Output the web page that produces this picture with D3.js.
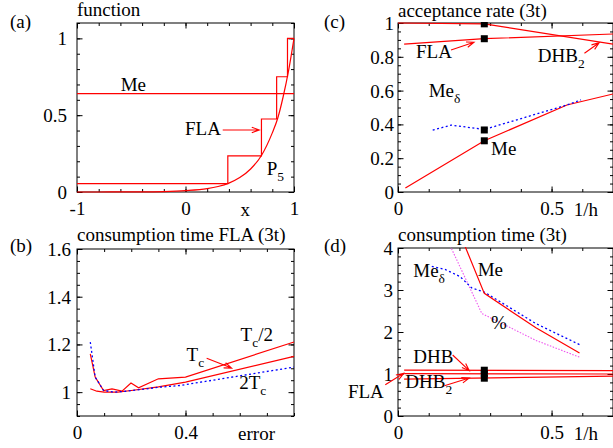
<!DOCTYPE html>
<html><head><meta charset="utf-8">
<script src="https://cdn.jsdelivr.net/npm/d3@7"></script>
<style>body{margin:0;background:#fff;overflow:hidden}</style>
</head><body><svg id="c" width="613" height="448" xmlns="http://www.w3.org/2000/svg"></svg>
<script>
// ---------- panel (a): function ----------
const aCurveX = [-1, -0.8, -0.6, -0.4, -0.2, 0, 0.2, 0.3, 0.4, 0.5, 0.6, 0.7, 0.8, 0.85, 0.9, 0.95, 1];
const aCurveY = [0, 0, 0.001, 0.001, 0.003, 0.009, 0.022, 0.036, 0.058, 0.094, 0.15, 0.238, 0.385, 0.48, 0.62, 0.79, 1.0];
const aStepX = [-1, 0.39, 0.70, 0.84, 0.94, 1];
const aStepY = [0.055, 0.235, 0.475, 0.75, 1.0, 1.0];
const aMeX = [-1, 1];
const aMeY = [0.64, 0.64];
const aXTicks = [-1, 0, 1], aXLabels = ["-1", "0", "1"];
const aYTicks = [0, 0.5, 1], aYLabels = ["0", "0.5", "1"];

// ---------- panel (b): consumption time FLA ----------
const bHalfX = [0.049, 0.067, 0.098, 0.129, 0.166, 0.199, 0.227, 0.3, 0.4, 0.8];
const bHalfY = [1.16, 1.063, 1.007, 1.014, 1.004, 1.038, 1.018, 1.056, 1.063, 1.21];
const bTcX = [0.049, 0.073, 0.1, 0.15, 0.2, 0.3, 0.4, 0.8];
const bTcY = [1.014, 1.004, 1.0, 1.0, 1.007, 1.022, 1.042, 1.15];
const b2TcX = [0.049, 0.067, 0.098, 0.135, 0.184, 0.307, 0.381, 0.8];
const b2TcY = [1.21, 1.063, 1.007, 1.0, 1.004, 1.021, 1.028, 1.105];
const bXTicks = [0, 0.4], bXLabels = ["0", "0.4"];
const bYTicks = [1, 1.2, 1.4, 1.6], bYLabels = ["1", "1.2", "1.4", "1.6"];

// ---------- panel (c): acceptance rate ----------
const cDHBX = [0, 0.281, 0.7], cDHBY = [1.0, 0.995, 0.875];
const cFLAX = [0.02, 0.281, 0.7], cFLAY = [0.875, 0.907, 0.935];
const cMeX = [0.024, 0.281, 0.55, 0.7], cMeY = [0.024, 0.303, 0.515, 0.58];
const cMeDX = [0.113, 0.173, 0.281, 0.55, 0.596], cMeDY = [0.366, 0.396, 0.37, 0.515, 0.545];
const cMarkX = [0.281, 0.281, 0.281, 0.281], cMarkY = [0.995, 0.907, 0.367, 0.303];
const cXTicks = [0, 0.5], cXLabels = ["0", "0.5"];
const cYTicks = [0, 0.2, 0.4, 0.6, 0.8, 1], cYLabels = ["0", "0.2", "0.4", "0.6", "0.8", "1"];

// ---------- panel (d): consumption time ----------
const dMeX = [0.215, 0.281, 0.449, 0.591], dMeY = [4.1, 2.92, 2.1, 1.5];
const dMeDX = [0.11, 0.153, 0.202, 0.24, 0.281, 0.449, 0.591], dMeDY = [3.56, 3.49, 3.32, 3.05, 2.95, 2.2, 1.7];
const dPctX = [0.17, 0.273, 0.449, 0.591], dPctY = [4.05, 2.44, 1.8, 1.4];
const dDHBX = [0.02, 0.7], dDHBY = [1.09, 1.08];
const dFLAX = [0.02, 0.7], dFLAY = [1.01, 1.0];
const dDHB2X = [0.02, 0.7], dDHB2Y = [0.88, 0.95];
const dMarkX = [0.281, 0.281, 0.281], dMarkY = [1.09, 1.01, 0.9];
const dXTicks = [0, 0.5], dXLabels = ["0", "0.5"];
const dYTicks = [0, 1, 2, 3, 4], dYLabels = ["0", "1", "2", "3", "4"];

const FONT = "'Liberation Serif','Times New Roman',serif";
const FS = 19, SFS = 13.5;
const RED = "#ff0000", BLUE = "#0000ff", MAG = "#ee55ee";
const svg = d3.select("#c");

function pts(xs, ys) { return xs.map((x, i) => [x, ys[i]]); }

function panel(o) {
  const x = d3.scaleLinear().domain(o.xd).range([o.l, o.r]);
  const y = d3.scaleLinear().domain(o.yd).range([o.b, o.t]);
  const g = svg.append("g");
  const cid = "clip_" + o.name;
  svg.append("clipPath").attr("id", cid).append("rect")
    .attr("x", o.l - 1).attr("y", o.t - 1).attr("width", o.r - o.l + 2).attr("height", o.b - o.t + 2);

  function axis(fn, scale, vals, labels, size, pad, tr) {
    const ax = fn(scale).tickValues(vals).tickSizeInner(-size).tickSizeOuter(0).tickPadding(pad)
      .tickFormat((d, i) => labels ? labels[i] : "");
    const gg = g.append("g").attr("transform", tr).call(ax);
    gg.select(".domain").remove();
    gg.attr("font-family", null).attr("font-size", null);
    gg.selectAll("line").attr("stroke", "#000").attr("stroke-width", 1);
    gg.selectAll("text").attr("font-family", FONT).attr("font-size", FS).attr("fill", "#000");
    return gg;
  }
  const eps = 1e-9;
  const xMinor = d3.range(o.xd[0], o.xd[1] + eps, o.xm);
  const yMinor = d3.range(o.yd[0], o.yd[1] + eps, o.ym);
  axis(d3.axisBottom, x, xMinor, null, 3, 0, `translate(0,${o.b})`);
  axis(d3.axisTop, x, xMinor, null, 3, 0, `translate(0,${o.t})`);
  axis(d3.axisLeft, y, yMinor, null, 3, 0, `translate(${o.l},0)`);
  axis(d3.axisRight, y, yMinor, null, 3, 0, `translate(${o.r},0)`);
  axis(d3.axisBottom, x, o.xt, o.xl, 5.5, 10, `translate(0,${o.b})`);
  axis(d3.axisTop, x, o.xt, null, 5.5, 0, `translate(0,${o.t})`);
  const yl = axis(d3.axisLeft, y, o.yt, o.yl, 5.5, o.ypad, `translate(${o.l},0)`);
  yl.selectAll("text").attr("dy", "0.34em");
  axis(d3.axisRight, y, o.yt, null, 5.5, 0, `translate(${o.r},0)`);
  g.append("rect").attr("x", o.l).attr("y", o.t).attr("width", o.r - o.l).attr("height", o.b - o.t)
    .attr("fill", "none").attr("stroke", "#000").attr("stroke-width", 1);
  const data = g.append("g").attr("clip-path", `url(#${cid})`);
  return { x, y, g, data };
}

function line(p, xs, ys, color, opts = {}) {
  const gen = d3.line().x(d => p.x(d[0])).y(d => p.y(d[1]));
  if (opts.curve) gen.curve(opts.curve);
  p.data.append("path").attr("d", gen(pts(xs, ys))).attr("fill", "none")
    .attr("stroke", color).attr("stroke-width", opts.w || 1.2)
    .attr("stroke-dasharray", opts.dash || null);
}

function markers(p, xs, ys) {
  p.data.selectAll(null).data(pts(xs, ys)).enter().append("rect")
    .attr("x", d => p.x(d[0]) - 3.5).attr("y", d => p.y(d[1]) - 3.5)
    .attr("width", 7).attr("height", 7).attr("fill", "#000");
}

function label(p, dx, dy, main, sub, rest) {
  const t = p.g.append("text").attr("x", p.x(dx)).attr("y", p.y(dy))
    .attr("font-family", FONT).attr("font-size", FS).attr("fill", "#000");
  t.append("tspan").text(main);
  if (sub) t.append("tspan").attr("font-size", SFS).attr("dy", 6).text(sub);
  if (rest) t.append("tspan").attr("dy", -6).text(rest);
  return t;
}

function arrow(p, x1, y1, x2, y2) {
  const X1 = p.x(x1), Y1 = p.y(y1), X2 = p.x(x2), Y2 = p.y(y2);
  const a = Math.atan2(Y2 - Y1, X2 - X1), L = 8, s = 0.35;
  const path = `M${X1},${Y1}L${X2},${Y2}M${X2 - L * Math.cos(a - s)},${Y2 - L * Math.sin(a - s)}L${X2},${Y2}L${X2 - L * Math.cos(a + s)},${Y2 - L * Math.sin(a + s)}`;
  p.g.append("path").attr("d", path).attr("fill", "none").attr("stroke", RED).attr("stroke-width", 1.1);
}

function text(x, y, s, anchor) {
  return svg.append("text").attr("x", x).attr("y", y).attr("font-family", FONT).attr("font-size", FS)
    .attr("fill", "#000").attr("text-anchor", anchor || "start").text(s);
}

// ---------------- (a) ----------------
const A = panel({ name: "a", l: 77, r: 294, t: 23, b: 192, xd: [-1, 1], yd: [0, 1.1], xm: 0.2, ym: 0.1,
  xt: aXTicks, xl: aXLabels, yt: aYTicks, yl: aYLabels, ypad: 10 });
line(A, aMeX, aMeY, RED);
line(A, aStepX, aStepY, RED, { curve: d3.curveStepAfter });
line(A, aCurveX, aCurveY, RED, { curve: d3.curveMonotoneX });
label(A, -0.597, 0.66, "Me");
label(A, -0.005, 0.371, "FLA");
arrow(A, 0.343, 0.404, 0.68, 0.404);
label(A, 0.748, 0.111, "P", "5");
text(A.x(0.55), 216, "x", "middle");
text(77, 16, "function");
text(10, 28, "(a)");

// ---------------- (b) ----------------
const B = panel({ name: "b", l: 77, r: 294, t: 249, b: 416, xd: [0, 0.8], yd: [0.9, 1.6], xm: 0.1, ym: 0.05,
  xt: bXTicks, xl: bXLabels, yt: bYTicks, yl: bYLabels, ypad: 6 });
line(B, bHalfX, bHalfY, RED);
line(B, bTcX, bTcY, RED);
line(B, b2TcX, b2TcY, BLUE, { dash: "2,2.5", w: 1.3 });
label(B, 0.603, 1.216, "T", "c", "/2");
label(B, 0.404, 1.132, "T", "c");
label(B, 0.598, 1.013, "2T", "c");
arrow(B, 0.478, 1.142, 0.57, 1.101);
text(B.x(0.662), 440, "error", "middle");
text(77, 241, "consumption time FLA (3t)");
text(10, 252, "(b)");

// ---------------- (c) ----------------
const C = panel({ name: "c", l: 398, r: 613, t: 23, b: 192, xd: [0, 0.7], yd: [0, 1], xm: 0.1, ym: 0.05,
  xt: cXTicks, xl: cXLabels, yt: cYTicks, yl: cYLabels, ypad: 4 });
line(C, cDHBX, cDHBY, RED);
line(C, cFLAX, cFLAY, RED);
line(C, cMeX, cMeY, RED);
line(C, cMeDX, cMeDY, BLUE, { dash: "2,2.5", w: 1.3 });
markers(C, cMarkX, cMarkY);
label(C, 0.0586, 0.791, "FLA");
arrow(C, 0.1726, 0.84, 0.2475, 0.886);
label(C, 0.455, 0.771, "DHB", "2");
arrow(C, 0.607, 0.821, 0.655, 0.883);
label(C, 0.1, 0.564, "Me", "δ");
label(C, 0.303, 0.219, "Me");
text(C.x(0.612), 216, "1/h", "middle");
text(398, 17, "acceptance rate (3t)");
text(324, 28, "(c)");

// ---------------- (d) ----------------
const D = panel({ name: "d", l: 398, r: 613, t: 248, b: 416, xd: [0, 0.7], yd: [0, 4], xm: 0.1, ym: 0.2,
  xt: dXTicks, xl: dXLabels, yt: dYTicks, yl: dYLabels, ypad: 5 });
line(D, dPctX, dPctY, MAG, { dash: "1.5,1.5", w: 1.1 });
line(D, dMeDX, dMeDY, BLUE, { dash: "2,2.5", w: 1.3 });
line(D, dMeX, dMeY, RED);
line(D, dDHBX, dDHBY, RED);
line(D, dFLAX, dFLAY, RED);
line(D, dDHB2X, dDHB2Y, RED);
markers(D, dMarkX, dMarkY);
label(D, 0.0498, 3.302, "Me", "δ");
label(D, 0.2595, 3.34, "Me");
label(D, 0.303, 2.07, "%");
label(D, 0.0498, 1.255, "DHB");
arrow(D, 0.178, 1.452, 0.232, 1.079);
label(D, -0.163, 0.44, "FLA");
arrow(D, -0.0414, 0.745, 0.0186, 1.017);
label(D, 0.0238, 0.667, "DHB", "2");
arrow(D, 0.151, 0.721, 0.232, 0.905);
text(D.x(0.612), 440, "1/h", "middle");
text(398, 241, "consumption time (3t)");
text(324, 252, "(d)");
</script>
</body></html>
